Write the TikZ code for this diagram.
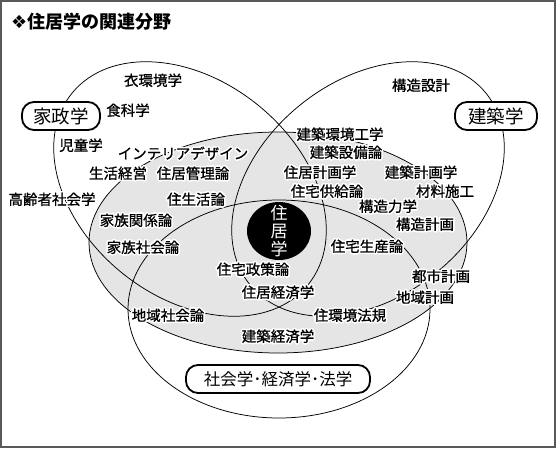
\documentclass[tikz,border=0pt]{standalone}
\usepackage{fontspec}
\setmainfont{Noto Sans CJK JP}
\newfontfamily\lblfont{Noto Sans CJK JP}[FakeBold=1]
\newfontfamily\symfont{DejaVu Sans}
\usepackage{contour}
\contourlength{1.5pt}
\contournumber{20}
\newcommand{\hl}[1]{\contour{white}{#1}}
\definecolor{zonegray}{RGB}{229,229,229}
\definecolor{framegray}{RGB}{90,90,90}
\tikzset{
  ring/.style={draw=black, line width=0.75pt},
  lbl/.style={font=\lblfont\fontsize{14.5}{14.5}\selectfont, inner sep=0pt},
  fieldbox/.style={draw=black, line width=1.8pt, fill=white, rounded corners=12pt,
    minimum height=28pt, inner xsep=6pt, font=\fontsize{18.5}{18.5}\selectfont},
}
\begin{document}
\begin{tikzpicture}[x=1pt,y=1pt]
\useasboundingbox (0,0) rectangle (556,448);
\fill[white] (0,0) rectangle (556,448);
% shaded field of housing studies
\fill[zonegray] (278,205.5) ellipse [x radius=189, y radius=110.5];
\draw[ring] (278,205.5) ellipse [x radius=189, y radius=110.5];
% home economics
\draw[ring, rotate around={-39:(190,259)}] (190,259) ellipse [x radius=152, y radius=108];
% architecture
\draw[ring, rotate around={39:(368,259)}] (368,259) ellipse [x radius=152, y radius=108];
% social sciences
\draw[ring] (279,139) ellipse [x radius=151, y radius=109];
% core
\fill[black] (279,217) ellipse [x radius=32, y radius=29];
\node[font=\fontsize{17}{18}\selectfont, text=white, align=center, inner sep=0pt] (core) at (279,217) {住\\居\\学};

% labels
\node[lbl] (l1) at (153,367) {\hl{衣環境学}};
\node[lbl] (l2) at (128,337) {\hl{食科学}};
\node[lbl] (l3) at (81,302) {\hl{児童学}};
\node[lbl] (l4) at (183,294) {\hl{インテリアデザイン}};
\node[lbl] (l5) at (118,274) {\hl{生活経営}};
\node[lbl] (l6) at (193,274) {\hl{住居管理論}};
\node[lbl] (l7) at (52,248) {\hl{高齢者社会学}};
\node[lbl] (l8) at (196,248) {\hl{住生活論}};
\node[lbl] (l9) at (136,227) {\hl{家族関係論}};
\node[lbl] (l10) at (143,200) {\hl{家族社会論}};
\node[lbl] (l11) at (168,132) {\hl{地域社会論}};
\node[lbl] (l12) at (421,362) {\hl{構造設計}};
\node[lbl] (l13) at (340,313) {\hl{建築環境工学}};
\node[lbl] (l14) at (346,295) {\hl{建築設備論}};
\node[lbl] (l15) at (320,275) {\hl{住居計画学}};
\node[lbl] (l16) at (421,275) {\hl{建築計画学}};
\node[lbl] (l17) at (327,256) {\hl{住宅供給論}};
\node[lbl] (l18) at (445,256) {\hl{材料施工}};
\node[lbl] (l19) at (388,241) {\hl{構造力学}};
\node[lbl] (l20) at (425,223) {\hl{構造計画}};
\node[lbl] (l21) at (367,201) {\hl{住宅生産論}};
\node[lbl] (l22) at (441,171) {\hl{都市計画}};
\node[lbl] (l23) at (425,150) {\hl{地域計画}};
\node[lbl] (l24) at (350,132) {\hl{住環境法規}};
\node[lbl] (l25) at (253,178) {\hl{住宅政策論}};
\node[lbl] (l26) at (278,155) {\hl{住居経済学}};
\node[lbl] (l27) at (278,111) {\hl{建築経済学}};

% field boxes
\node[fieldbox, minimum width=78pt] (kasei) at (61,332) {家政学};
\node[fieldbox, minimum width=82pt] (kenchiku) at (496,332) {建築学};
\node[fieldbox, minimum width=184pt, font=\fontsize{16.5}{16.5}\selectfont] (shakai) at (278,69) {社会学･経済学･法学};

% title
\node[anchor=west, inner sep=0pt, font=\fontsize{18}{18}\selectfont\bfseries] (title) at (11,426) {{\symfont ❖}住居学の関連分野};

% frame
\draw[framegray, line width=2pt] (1,1.5) rectangle (555,447);
\end{tikzpicture}
\end{document}
